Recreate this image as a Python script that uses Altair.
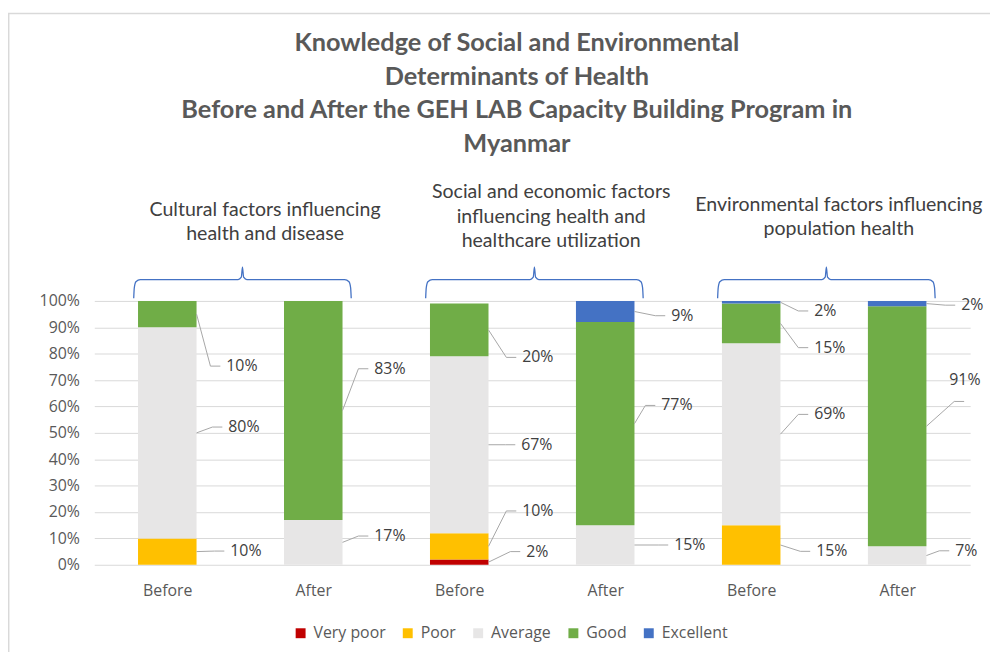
import altair as alt
import pandas as pd

# ---------------- data ----------------
TITLE_LINES = [
    "Knowledge of Social and Environmental",
    "Determinants of Health",
    "Before and After the GEH LAB Capacity Building Program in",
    "Myanmar",
]
GROUP_LABELS = [
    ["Cultural factors influencing", "health and disease"],
    ["Social and economic factors", "influencing health and", "healthcare utilization"],
    ["Environmental factors influencing", "population health"],
]
PHASES = ["Before", "After"]
CATEGORIES = ["Very poor", "Poor", "Average", "Good", "Excellent"]
COLORS = ["#C00000", "#FFC000", "#E7E6E6", "#70AD47", "#4472C4"]

# one value per bar: Cultural Before/After, Social Before/After, Environmental Before/After
VERY_POOR = [0, 0, 2, 0, 0, 0]
POOR = [10, 0, 10, 0, 15, 0]
AVERAGE = [80, 17, 67, 15, 69, 7]
GOOD = [10, 83, 20, 77, 15, 91]
EXCELLENT = [0, 0, 0, 9, 2, 2]
SERIES = [VERY_POOR, POOR, AVERAGE, GOOD, EXCELLENT]

# hand-placed data labels (as in the original): height in % and gap in px from bar edge
LABEL_Y = [
    [None, 5.2, 52.2, 75.3, None],
    [None, None, 10.9, 74.3, None],
    [5.0, 20.4, 45.5, 78.6, None],
    [None, None, 7.5, 60.4, 94.4],
    [None, 5.1, 57.0, 82.3, 96.2],
    [None, None, 5.3, 70.0, 98.4],
]
LABEL_GAP = [
    [0, 34, 32, 30, 0],
    [0, 0, 32, 32, 0],
    [38, 34, 33, 34, 0],
    [0, 0, 40, 27, 37],
    [0, 36, 34, 34, 34],
    [0, 0, 29, 23, 35],
]
LEADER_END = {(5, 3): (38, 61.9)}
GROUP_LABEL_X = [0.67, 2.63, 4.6]
GROUP_LABEL_Y = [1.322, 1.389, 1.341]

# ---------------- layout ----------------
W, H = 883, 266
PX = 6 / W
HALF = 29.5 * PX
FONT = "Open Sans"
TFONT = "Lato"
FS = 16

XS = alt.Scale(domain=[-0.5, 5.5], nice=False, zero=False)
YS = alt.Scale(domain=[0, 1], nice=False, zero=True)
XAX = alt.Axis(values=[0, 1, 2, 3, 4, 5],
               labelExpr="datum.value % 2 == 0 ? 'Before' : 'After'",
               grid=False, domain=False, ticks=False, title=None,
               labelFont=FONT, labelFontSize=FS, labelColor="#595959",
               labelPadding=18, labelFlush=False)
YAX = alt.Axis(values=[k / 10 for k in range(11)], format=".0%",
               grid=True, gridColor="#D9D9D9", gridWidth=1,
               domain=False, ticks=False, tickSize=0, title=None,
               labelFont=FONT, labelFontSize=FS, labelColor="#595959",
               labelPadding=15)


def X(f="x"):
    return alt.X(f"{f}:Q", scale=XS, axis=XAX)


def Y(f="y"):
    return alt.Y(f"{f}:Q", scale=YS, axis=YAX)


rows = []
for i in range(6):
    cum = 0
    for c, cat in enumerate(CATEGORIES):
        v = SERIES[c][i]
        if v <= 0:
            continue
        y0 = min(cum, 100) / 100
        y1 = min(cum + v, 100) / 100
        cum += v
        rows.append(dict(bar=i, c=c, cat=cat, value=v,
                         x=i - HALF, x2=i + HALF, y=y0, y2=y1))
bars_df = pd.DataFrame(rows)

lab_rows, lead_rows = [], []
for r in rows:
    i, c = r["bar"], r["c"]
    ly = LABEL_Y[i][c]
    gap = LABEL_GAP[i][c]
    edge = i + HALF
    lab_rows.append(dict(x=edge + gap * PX, y=ly / 100, text=f"{r['value']}%"))
    end_px, end_y = LEADER_END.get((i, c), (gap - 6, ly))
    pts = [(edge, (r["y"] + r["y2"]) / 2),
           (edge + (end_px - 10) * PX, end_y / 100),
           (edge + end_px * PX, end_y / 100)]
    for k, (px_, py_) in enumerate(pts):
        lead_rows.append(dict(key=f"{i}-{c}", k=k, x=px_, y=py_))
lab_df = pd.DataFrame(lab_rows)
lead_df = pd.DataFrame(lead_rows)

brace_rows = []
for g in range(3):
    first, last = 2 * g, 2 * g + 1
    L, R = first - 0.23, last + 0.26
    C = (L + R) / 2
    pts = [(L, 1.01), (L + 0.004, 1.05), (L + 0.015, 1.073), (L + 0.045, 1.081),
           (C - 0.03, 1.081), (C - 0.008, 1.09), (C, 1.128), (C + 0.008, 1.09),
           (C + 0.03, 1.081), (R - 0.045, 1.081), (R - 0.015, 1.073),
           (R - 0.004, 1.05), (R, 1.01)]
    for k, (bx, by) in enumerate(pts):
        brace_rows.append(dict(g=g, k=k, x=bx, y=by))
brace_df = pd.DataFrame(brace_rows)

glab_df = pd.DataFrame(dict(x=GROUP_LABEL_X, y=GROUP_LABEL_Y, text=GROUP_LABELS))
one = pd.DataFrame({"a": [0]})

# ---------------- layers ----------------
bars = alt.Chart(bars_df).mark_rect().encode(
    x=X(), x2="x2:Q", y=Y(), y2="y2:Q",
    color=alt.Color("cat:N", scale=alt.Scale(domain=CATEGORIES, range=COLORS),
                    legend=alt.Legend(orient="none", legendX=200, legendY=327,
                                      direction="horizontal", columns=5, title=None,
                                      symbolType="square", symbolSize=100,
                                      symbolStrokeWidth=0, labelFont=FONT,
                                      labelFontSize=FS, labelColor="#595959",
                                      columnPadding=14, labelOffset=5, padding=0,
                                      gridAlign="none")),
)

leaders = alt.Chart(lead_df).mark_line(color="#A6A6A6", strokeWidth=1).encode(
    x=X(), y=Y(), detail="key:N", order="k:Q")

labels = alt.Chart(lab_df).mark_text(
    align="left", baseline="middle", font=FONT, fontSize=FS, color="#404040"
).encode(x=X(), y=Y(), text="text:N")

braces = alt.Chart(brace_df).mark_line(
    color="#4472C4", strokeWidth=1.3, interpolate="monotone"
).encode(x=X(), y=Y(), detail="g:N", order="k:Q")

glabels = alt.Chart(glab_df).mark_text(
    align="center", baseline="alphabetic", font=TFONT, fontSize=19.7,
    lineHeight=24.5, color="#404040"
).encode(x=X(), y=Y(), text="text")

title = alt.Chart(one).mark_text(
    text=TITLE_LINES, align="center", baseline="alphabetic", font=TFONT,
    fontSize=25.5, fontWeight="bold", lineHeight=33.7, color="#595959"
).encode(x=alt.value(426), y=alt.value(49 - 300.7))

border_top = alt.Chart(one).mark_rule(color="#D9D9D9", strokeWidth=1.5).encode(
    x=alt.value(-87), x2=alt.value(W + 20), y=alt.value(-289.7))
border_left = alt.Chart(one).mark_rule(color="#D9D9D9", strokeWidth=1.5).encode(
    x=alt.value(-86.3), y=alt.value(-289.7), y2=alt.value(H + 88))

chart = alt.layer(
    border_top, border_left, bars, leaders, labels, braces, glabels, title
).properties(
    width=W, height=H,
    autosize=alt.AutoSizeParams(type="none"),
    padding={"left": 87, "top": 292.7, "right": 20, "bottom": 88},
).configure_view(stroke=None)

chart.save("out.html", embed_options={"renderer": "svg", "actions": False})
